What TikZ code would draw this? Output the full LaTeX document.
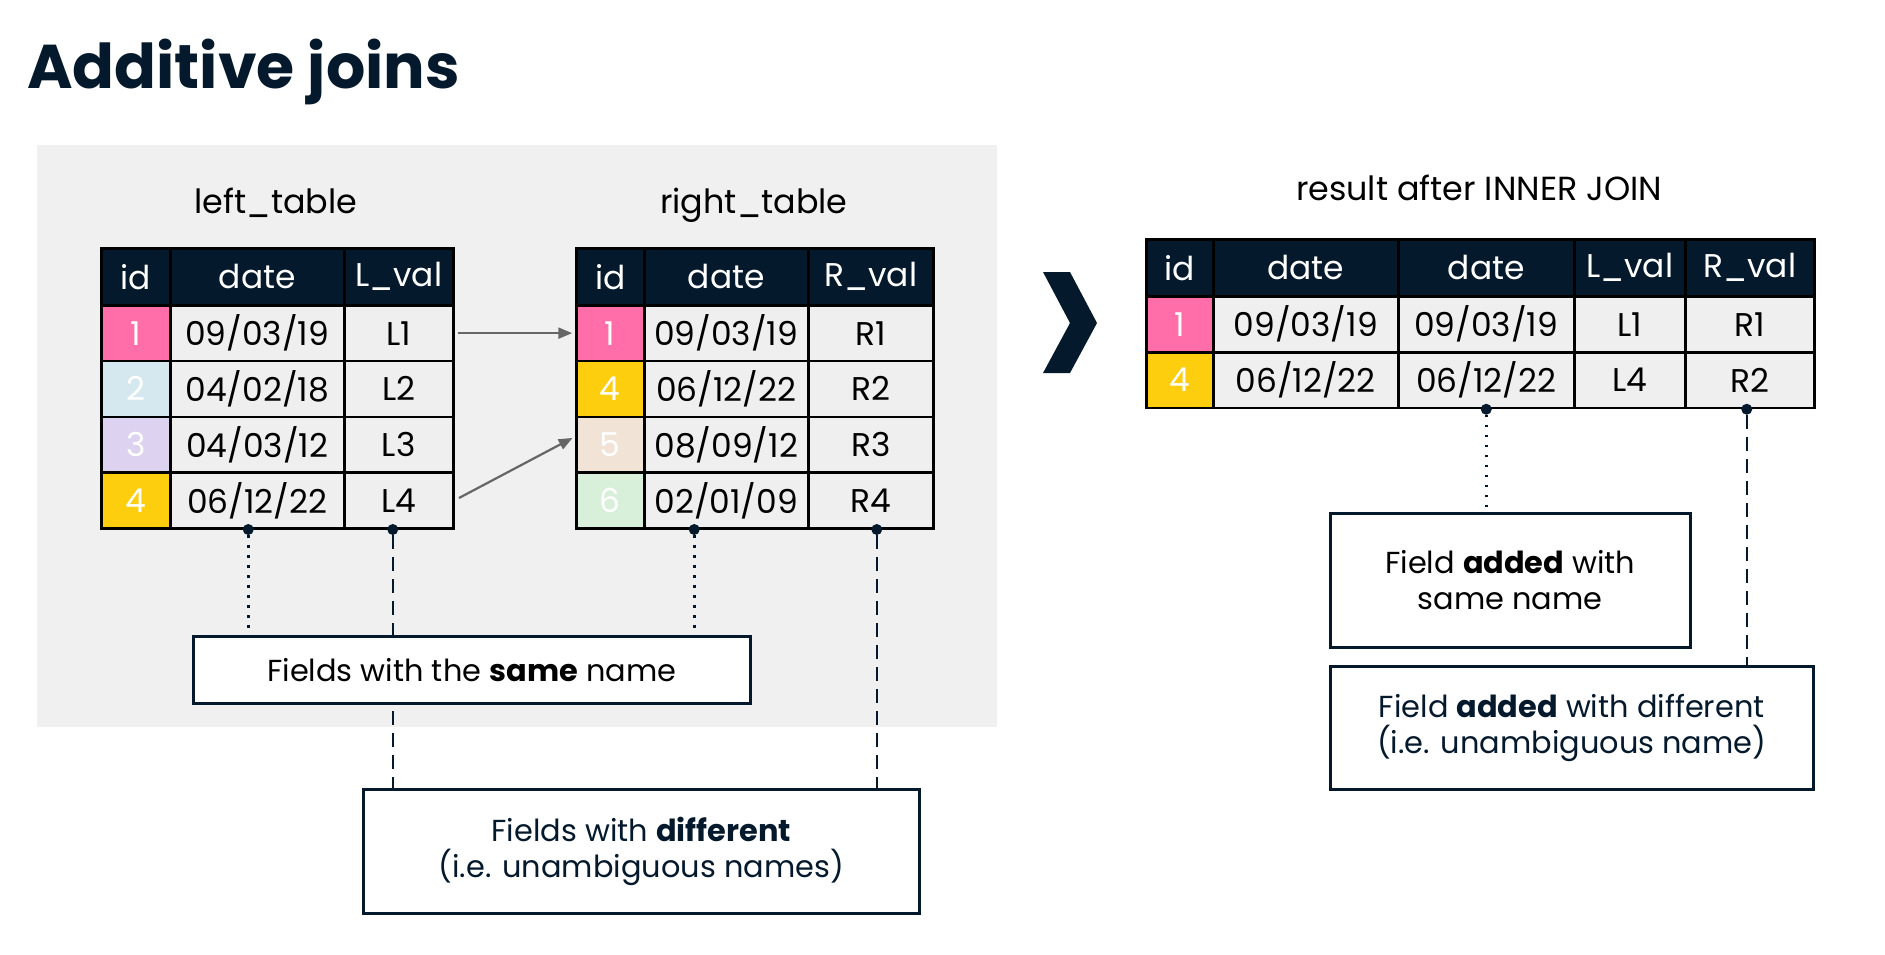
\documentclass[tikz,border=0pt]{standalone}
\usepackage{fontspec}
\setmainfont{Poppins}
\usetikzlibrary{arrows,positioning}
\definecolor{navy}{HTML}{05192D}
\definecolor{cellgray}{HTML}{EFEFEF}
\definecolor{bggray}{HTML}{F0F0F0}
\definecolor{arrowgray}{HTML}{666666}
\definecolor{idpink}{HTML}{FF6EA9}
\definecolor{idyellow}{HTML}{FCCE0D}
\definecolor{idblue}{HTML}{D5E8EF}
\definecolor{idlilac}{HTML}{DDD3F0}
\definecolor{idpeach}{HTML}{F2E3D7}
\definecolor{idmint}{HTML}{D8EFDA}
\tikzset{
  hdr/.style     = {draw=black, fill=navy, text=white, line width=2.5bp, minimum height=57bp, anchor=north west, inner sep=0pt, font=\fontsize{33}{40}\selectfont},
  cell/.style    = {draw=black, fill=cellgray, line width=2.5bp, minimum height=55.75bp, anchor=north west, inner sep=0pt, font=\fontsize{33}{40}\selectfont},
  idcell/.style  = {cell, text=white},
  tname/.style   = {anchor=base, font=\fontsize{33.5}{40}\selectfont},
  note/.style    = {draw=navy, fill=white, line width=2.5bp, anchor=north west, inner sep=0pt, align=center, font=\fontsize{30.5}{36}\selectfont},
  fdot/.style    = {circle, fill=navy, inner sep=0pt, minimum size=11bp},
  samelink/.style = {navy, line width=2.5bp, dash pattern=on 2.5bp off 7.5bp},
  difflink/.style = {navy, line width=2.5bp, dash pattern=on 14bp off 8bp}
}

\begin{document}
\begin{tikzpicture}[x=1bp, y=-1bp, >=triangle 45]
\useasboundingbox (0,0) rectangle (1885,954);

% Title and background
\node[anchor=base west, inner sep=0pt, text=navy, font=\fontsize{62}{74}\selectfont\bfseries] (title) at (27,88) {Additive joins};
\fill[bggray] (37,145) rectangle (997,727);

% left_table
\node[tname] (ltname) at (276,213) {left\_table};
\node[hdr, minimum width=69bp] (lt-0-1) at (100,247) {id};
\node[hdr, minimum width=174bp] (lt-0-2) at (169,247) {date};
\node[hdr, minimum width=109bp] (lt-0-3) at (343,247) {L\_val};
\node[idcell, fill=idpink, minimum width=69bp] (lt-1-1) at (100,304) {1};
\node[cell, minimum width=174bp] (lt-1-2) at (169,304) {09/03/19};
\node[cell, minimum width=109bp] (lt-1-3) at (343,304) {L1};
\node[idcell, fill=idblue, minimum width=69bp] (lt-2-1) at (100,359.75) {2};
\node[cell, minimum width=174bp] (lt-2-2) at (169,359.75) {04/02/18};
\node[cell, minimum width=109bp] (lt-2-3) at (343,359.75) {L2};
\node[idcell, fill=idlilac, minimum width=69bp] (lt-3-1) at (100,415.5) {3};
\node[cell, minimum width=174bp] (lt-3-2) at (169,415.5) {04/03/12};
\node[cell, minimum width=109bp] (lt-3-3) at (343,415.5) {L3};
\node[idcell, fill=idyellow, minimum width=69bp] (lt-4-1) at (100,471.25) {4};
\node[cell, minimum width=174bp] (lt-4-2) at (169,471.25) {06/12/22};
\node[cell, minimum width=109bp] (lt-4-3) at (343,471.25) {L4};

% right_table
\node[tname] (rtname) at (754,213) {right\_table};
\node[hdr, minimum width=68bp] (rt-0-1) at (575,247) {id};
\node[hdr, minimum width=164bp] (rt-0-2) at (643,247) {date};
\node[hdr, minimum width=125bp] (rt-0-3) at (807,247) {R\_val};
\node[idcell, fill=idpink, minimum width=68bp] (rt-1-1) at (575,304) {1};
\node[cell, minimum width=164bp] (rt-1-2) at (643,304) {09/03/19};
\node[cell, minimum width=125bp] (rt-1-3) at (807,304) {R1};
\node[idcell, fill=idyellow, minimum width=68bp] (rt-2-1) at (575,359.75) {4};
\node[cell, minimum width=164bp] (rt-2-2) at (643,359.75) {06/12/22};
\node[cell, minimum width=125bp] (rt-2-3) at (807,359.75) {R2};
\node[idcell, fill=idpeach, minimum width=68bp] (rt-3-1) at (575,415.5) {5};
\node[cell, minimum width=164bp] (rt-3-2) at (643,415.5) {08/09/12};
\node[cell, minimum width=125bp] (rt-3-3) at (807,415.5) {R3};
\node[idcell, fill=idmint, minimum width=68bp] (rt-4-1) at (575,471.25) {6};
\node[cell, minimum width=164bp] (rt-4-2) at (643,471.25) {02/01/09};
\node[cell, minimum width=125bp] (rt-4-3) at (807,471.25) {R4};

% Matching rows
\draw[->, arrowgray, line width=2.2bp, shorten <=3bp, shorten >=3bp] (lt-1-3.east) -- (rt-1-1.west);
\draw[->, arrowgray, line width=2.2bp, shorten <=5bp, shorten >=3bp] (lt-4-3.east) -- ([yshift=8bp]rt-3-1.west);

% Join chevron
\fill[navy] (1043,272) -- (1070,272) -- (1097,323) -- (1070,373) -- (1043,373) -- (1070,323) -- cycle;

% result after INNER JOIN
\node[tname] (resname) at (1479,200) {result after INNER JOIN};
\node[hdr, minimum width=67bp] (res-0-1) at (1145,238) {id};
\node[hdr, minimum width=185bp] (res-0-2) at (1212,238) {date};
\node[hdr, minimum width=176bp] (res-0-3) at (1397,238) {date};
\node[hdr, minimum width=111bp] (res-0-4) at (1573,238) {L\_val};
\node[hdr, minimum width=129bp] (res-0-5) at (1684,238) {R\_val};
\node[idcell, fill=idpink, minimum width=67bp] (res-1-1) at (1145,295) {1};
\node[cell, minimum width=185bp] (res-1-2) at (1212,295) {09/03/19};
\node[cell, minimum width=176bp] (res-1-3) at (1397,295) {09/03/19};
\node[cell, minimum width=111bp] (res-1-4) at (1573,295) {L1};
\node[cell, minimum width=129bp] (res-1-5) at (1684,295) {R1};
\node[idcell, fill=idyellow, minimum width=67bp] (res-2-1) at (1145,351) {4};
\node[cell, minimum width=185bp] (res-2-2) at (1212,351) {06/12/22};
\node[cell, minimum width=176bp] (res-2-3) at (1397,351) {06/12/22};
\node[cell, minimum width=111bp] (res-2-4) at (1573,351) {L4};
\node[cell, minimum width=129bp] (res-2-5) at (1684,351) {R2};

% Field markers
\node[fdot] (ltdate) at ([xshift=-9bp]lt-4-2.south) {};
\node[fdot] (ltval) at ([xshift=-6bp]lt-4-3.south) {};
\node[fdot] (rtdate) at ([xshift=-32bp]rt-4-2.south) {};
\node[fdot] (rtval) at ([xshift=6bp]rt-4-3.south) {};
\node[fdot] (resdate) at (res-2-3.south) {};
\node[fdot] (resval) at ([xshift=-3bp]res-2-5.south) {};

% Notes
\coordinate (fdiffnw) at (362,788);
\draw[difflink] (ltval) -- (ltval |- fdiffnw);
\draw[difflink] (rtval) -- (rtval |- fdiffnw);
\node[note, minimum width=557bp, minimum height=67bp] (fsame) at (192,635) {Fields with the \textbf{same} name};
\node[note, text=navy, minimum width=556bp, minimum height=124bp] (fdiff) at (fdiffnw) {Fields with \textbf{different}\\(i.e. unambiguous names)};
\draw[samelink] (ltdate) -- (ltdate |- fsame.north);
\draw[samelink] (rtdate) -- (rtdate |- fsame.north);

\node[note, minimum width=360bp, minimum height=134bp] (addsame) at (1329,512) {Field \textbf{added} with\\same name};
\node[note, text=navy, minimum width=483bp, minimum height=123bp] (adddiff) at (1329,665) {Field \textbf{added} with different\\(i.e. unambiguous name)};
\draw[samelink] (resdate) -- (resdate |- addsame.north);
\draw[difflink] (resval) -- (resval |- adddiff.north);

\end{tikzpicture}
\end{document}
